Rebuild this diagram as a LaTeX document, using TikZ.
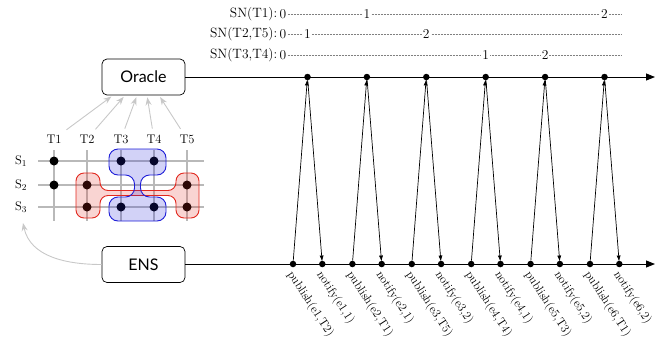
\documentclass[tikz,border=0pt]{standalone}
\usepackage{fontspec}
\newfontfamily\boxfont{Lato}
\usetikzlibrary{arrows.meta,calc}

\definecolor{hintgray}{RGB}{200,200,200}
\definecolor{gridgray}{RGB}{185,185,185}
\definecolor{hullred}{RGB}{225,40,30}
\definecolor{hullblue}{RGB}{30,30,215}

\tikzset{
  actor/.style={draw, rounded corners=5pt, line width=0.7pt,
    minimum width=83pt, minimum height=36pt,
    font=\boxfont\fontsize{16}{19}\selectfont},
  timeline/.style={line width=0.9pt, -{Triangle[length=9pt,width=7pt]}},
  evdot/.style={circle, fill, inner sep=0pt, minimum size=6.5pt},
  msg/.style={line width=0.7pt, -{Latex[length=6pt,width=4pt]}, shorten >=-1pt},
  evlabel/.style={rotate=-57, anchor=north west, inner sep=0pt,
    font=\fontsize{12}{14}\selectfont},
  snlabel/.style={anchor=east, inner sep=1pt, font=\fontsize{13.5}{15}\selectfont},
  snnum/.style={fill=white, inner sep=1pt, font=\fontsize{13.5}{15}\selectfont},
  snline/.style={densely dotted, gray, line width=0.5pt},
  gridline/.style={gridgray, line width=1.1pt},
  statedot/.style={circle, fill, inner sep=0pt, minimum size=9pt},
  hint/.style={hintgray, line width=0.9pt, -{Stealth[length=8pt,width=6pt]}},
  axislabel/.style={inner sep=3pt, font=\fontsize{12.5}{14}\selectfont},
  redhull/.style={draw=hullred, line width=0.9pt, fill=hullred, fill opacity=0.2,
    rounded corners=8pt},
  bluehull/.style={draw=hullblue, line width=0.9pt, fill=hullblue, fill opacity=0.2,
    rounded corners=9pt},
}

\begin{document}
\begin{tikzpicture}[x=1pt,y=-1pt]
\useasboundingbox (0,0) rectangle (662,341);

% the two participants and their timelines
\node[actor] (oracle) at (143.5,77) {Oracle};
\node[actor] (ens) at (143.5,264.5) {ENS};
\coordinate (oend) at (655,77);
\coordinate (eend) at (655,264);
\draw[timeline] (oracle.east |- oend) -- (oend);
\draw[timeline] (ens.east |- eend) -- (eend);

% publish / notify exchanges
\foreach \k/\pl/\nl in {
  1/{publish(e1,T2)}/{notify(e1,1)},
  2/{publish(e2,T1)}/{notify(e2,1)},
  3/{publish(e3,T5)}/{notify(e3,2)},
  4/{publish(e4,T4)}/{notify(e4,1)},
  5/{publish(e5,T3)}/{notify(e5,2)},
  6/{publish(e6,T1)}/{notify(e6,2)}} {
  \node[evdot] (o\k) at ({307.5+59.4*(\k-1)},77) {};
  \node[evdot] (p\k) at ({293+59.4*(\k-1)},264) {};
  \node[evdot] (n\k) at ({322.3+59.4*(\k-1)},264) {};
  \draw[msg] (p\k) -- (o\k);
  \draw[msg] (o\k) -- (n\k);
  \node[evlabel] at ($(p\k)+(2,5)$) {\pl};
  \node[evlabel] at ($(n\k)+(2,5)$) {\nl};
}

% sequence numbers per topic group
\node[snlabel] (sn1) at (278.5,14) {SN(T1):};
\node[snlabel] (sn2) at (278.5,34.5) {SN(T2,T5):};
\node[snlabel] (sn3) at (278.5,55) {SN(T3,T4):};
\foreach \r in {1,2,3} {
  \node[snnum, anchor=west] (z\r) at (sn\r.east) {0};
  \coordinate (end\r) at (621,0 |- sn\r);
  \draw[snline] (z\r.east) -- (end\r |- z\r);
}
\node[snnum] at (o2 |- sn1) {1};
\node[snnum] at (o6 |- sn1) {2};
\node[snnum] at (o1 |- sn2) {1};
\node[snnum] at (o3 |- sn2) {2};
\node[snnum] at (o4 |- sn3) {1};
\node[snnum] at (o5 |- sn3) {2};

% topic / subscriber grid
\foreach \i/\x in {1/54,2/87,3/121,4/154,5/187} {
  \node[axislabel] (t\i) at (\x,139) {T\i};
  \draw[gridline] (\x,150) -- (\x,221);
}
\foreach \j/\y in {1/161,2/185,3/207} {
  \node[axislabel] (s\j) at (21,\y) {S$_{\j}$};
  \draw[gridline] (38,\y) -- (204,\y);
}
\foreach \x/\y in {54/161,121/161,154/161,54/185,87/185,187/185,87/207,121/207,154/207,187/207}
  \node[statedot] at (\x,\y) {};

% subscription groups
\draw[redhull] (76,173) -- (100,173) -- (100,190.5) -- (176,190.5) -- (176,173)
  -- (199,173) -- (199,218) -- (176,218) -- (176,195.5) -- (100,195.5) -- (100,218)
  -- (76,218) -- cycle;
\draw[bluehull] (109,149) -- (166,149) -- (166,175) -- (140.5,175) -- (140.5,197)
  -- (166,197) -- (166,221) -- (109,221) -- (109,197) -- (134.5,197) -- (134.5,175)
  -- (109,175) -- cycle;

% topics feed the oracle
\foreach \i/\dx in {1/-30.5,2/-18.5,3/-6.5,4/3.5,5/15.5}
  \draw[hint, shorten <=3pt, shorten >=2pt] (t\i) -- ([xshift=\dx pt]oracle.south);

% ENS notifies subscribers
\coordinate (subs) at (23,223);
\draw[hint] (ens.west) to[out=180, in=-78] (subs);
\end{tikzpicture}
\end{document}
